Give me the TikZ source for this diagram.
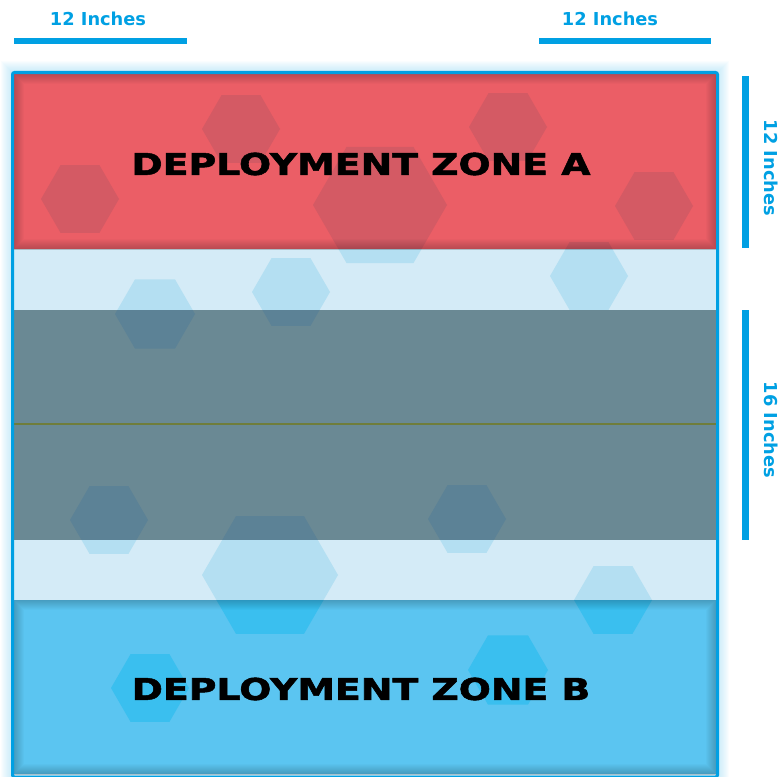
\documentclass[tikz,border=0pt]{standalone}
\usepackage{fontspec}
\setmainfont{DejaVu Sans}
\newfontfamily\zonefont{DejaVu Sans}[FakeBold=1.6]
\definecolor{rulerblue}{HTML}{00A0E3}
\definecolor{zonered}{HTML}{EB5E66}
\definecolor{hexred}{HTML}{D45A64}
\definecolor{midlight}{HTML}{D4EBF7}
\definecolor{hexlight}{HTML}{B4DFF2}
\definecolor{midgrey}{HTML}{6A8994}
\definecolor{hexgrey}{HTML}{5C8296}
\definecolor{zoneblue}{HTML}{5BC5F1}
\definecolor{hexblue}{HTML}{3ABFEF}
\definecolor{midline}{HTML}{6F7D3B}

% hexagons behind the table, flat top, centre / radius in pixels
\newcommand{\hexfield}[1]{%
  \foreach \cx/\cy/\r in {241/129/39, 80/199/39, 380/205/67, 155/314/40,
      291/292/39, 508/127/39, 654/206/39, 589/276/39, 109/520/39,
      270/575/68, 150/688/39, 467/519/39, 613/600/39, 508/670/40}
    \fill[#1] (\cx,\cy) +(0:\r) -- +(60:\r) -- +(120:\r) -- +(180:\r)
      -- +(240:\r) -- +(300:\r) -- cycle;}

% one horizontal strip of the table
\newcommand{\band}[4]{%
  \begin{scope}
    \clip (14,#1) rectangle (716,#2);
    \fill[#3] (14,#1) rectangle (716,#2);
    \hexfield{#4}
  \end{scope}}

% darker rim inside a deployment zone
\newcommand{\rim}[2]{%
  \begin{scope}
    \clip (14,#1) rectangle (716,#2);
    \foreach \w in {2,4,...,20}
      \draw[black, opacity=0.018, line width=\w] (14,#1) rectangle (716,#2);
  \end{scope}}

\begin{document}
\begin{tikzpicture}[x=1pt, y=-1pt,
    ruler/.style={fill=rulerblue},
    inch/.style={text=rulerblue, inner sep=0pt,
        font=\bfseries\fontsize{17.8}{20}\selectfont},
    zone/.style={inner sep=0pt, xscale=1.26,
        font=\zonefont\bfseries\fontsize{30}{32}\selectfont}
]
\useasboundingbox (0,0) rectangle (784,776);

% glow round the table
\foreach \w in {2,4,...,22}
  \draw[rulerblue!50, opacity=0.045, line width=\w] (12,72) rectangle (718,776);

% strips
\band{74}{249}{zonered}{hexred}
\band{249}{310}{midlight}{hexlight}
\band{310}{540}{midgrey}{hexgrey}
\band{540}{600}{midlight}{hexlight}
\band{600}{774}{zoneblue}{hexblue}
\rim{74}{249}
\rim{600}{774}
\draw[midline, line width=1.2] (14,424) -- (716,424);

% table edge
\draw[rulerblue, line width=3, rounded corners=2] (12.5,72.5) rectangle (717.5,777);

\node[zone] (zoneA) at (361,164) {DEPLOYMENT ZONE A};
\node[zone] (zoneB) at (361,689) {DEPLOYMENT ZONE B};

% rulers
\node[inch] (leftlbl) at (98,18.5) {12 Inches};
\node[inch] (rightlbl) at (610,18.5) {12 Inches};
\fill[ruler] (14,38) rectangle (187,44);
\fill[ruler] (539,38) rectangle (711,44);
\fill[ruler] (742,76) rectangle (749,248);
\fill[ruler] (742,310) rectangle (749,540);
\node[inch, rotate=-90] (depthlbl) at (771,168) {12 Inches};
\node[inch, rotate=-90] (midlbl) at (771,430) {16 Inches};
\end{tikzpicture}
\end{document}
